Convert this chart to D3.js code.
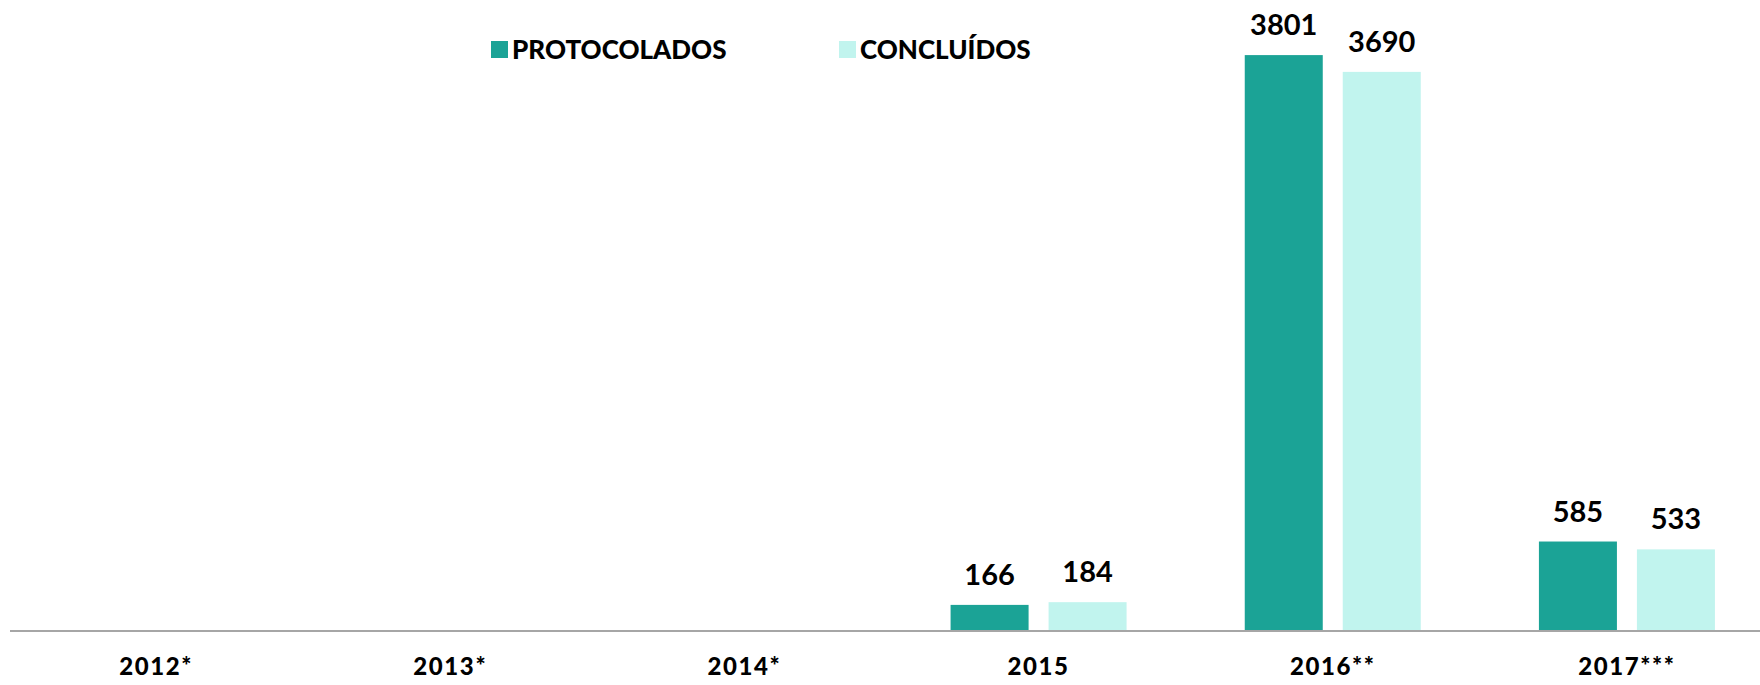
<!DOCTYPE html>
<html>
<head>
<meta charset="utf-8">
<script src="https://cdn.jsdelivr.net/npm/d3@7"></script>
<style>
  html, body { margin: 0; padding: 0; background: #ffffff; }
  svg { display: block; }
  text { font-family: Lato, "Open Sans", sans-serif; font-weight: 700; fill: #000; }
</style>
</head>
<body>
<svg id="chart" width="1760" height="685"></svg>
<script>
const categories = ["2012*", "2013*", "2014*", "2015", "2016**", "2017***"];
const seriesNames = ["PROTOCOLADOS", "CONCLUÍDOS"];
const protocolados = [null, null, null, 166, 3801, 585];
const concluidos = [null, null, null, 184, 3690, 533];
const colors = ["#1ba396", "#c1f4ee"];

const svg = d3.select("#chart");
const W = 1760, H = 685;
const baseY = 630;

const x0 = d3.scaleBand().domain(categories).range([9, 1774]).paddingInner(0).paddingOuter(0);
const step = x0.step();
const x1 = d3.scaleBand().domain(seriesNames)
  .range([step / 2 - 88, step / 2 + 88]).paddingInner(0.204).paddingOuter(0);
const y = d3.scaleLinear().domain([0, 4000]).range([baseY, 25]);
const color = d3.scaleOrdinal().domain(seriesNames).range(colors);

const rows = categories.map((c, i) => ({
  cat: c,
  values: [
    { key: seriesNames[0], value: protocolados[i] },
    { key: seriesNames[1], value: concluidos[i] }
  ]
}));

const groups = svg.append("g").selectAll("g").data(rows).join("g")
  .attr("transform", d => `translate(${x0(d.cat)},0)`);

const bars = groups.selectAll("g.bar").data(d => d.values.filter(v => v.value != null))
  .join("g").attr("class", "bar");

bars.append("rect")
  .attr("x", d => x1(d.key))
  .attr("width", x1.bandwidth())
  .attr("y", d => y(d.value))
  .attr("height", d => baseY - y(d.value))
  .attr("fill", d => color(d.key));

bars.append("text")
  .attr("x", d => x1(d.key) + x1.bandwidth() / 2)
  .attr("y", d => y(d.value) - 20)
  .attr("text-anchor", "middle")
  .style("font-size", "29px")
  .text(d => d.value);

// Axis
const xAxis = d3.axisBottom(x0).tickSize(0).tickPadding(28);
const axisG = svg.append("g").attr("transform", `translate(0,${baseY})`).call(xAxis);
axisG.select(".domain").remove();
axisG.selectAll("text")
  .style("font-size", "24px")
  .style("font-weight", "900")
  .style("letter-spacing", "1.6px")
  .attr("fill", "#000");
svg.append("line")
  .attr("x1", 10).attr("x2", W)
  .attr("y1", baseY + 1).attr("y2", baseY + 1)
  .attr("stroke", "#a6a6a6").attr("stroke-width", 2);

// Legend
const legendX = [491, 839];
const legend = svg.append("g").selectAll("g").data(seriesNames).join("g")
  .attr("transform", (d, i) => `translate(${legendX[i]},41)`);
legend.append("rect").attr("width", 17).attr("height", 17).attr("fill", d => color(d));
legend.append("text").attr("x", 21).attr("y", 18)
  .style("font-size", "26px")
  .style("font-weight", "900")
  .text(d => d);
</script>
</body>
</html>
